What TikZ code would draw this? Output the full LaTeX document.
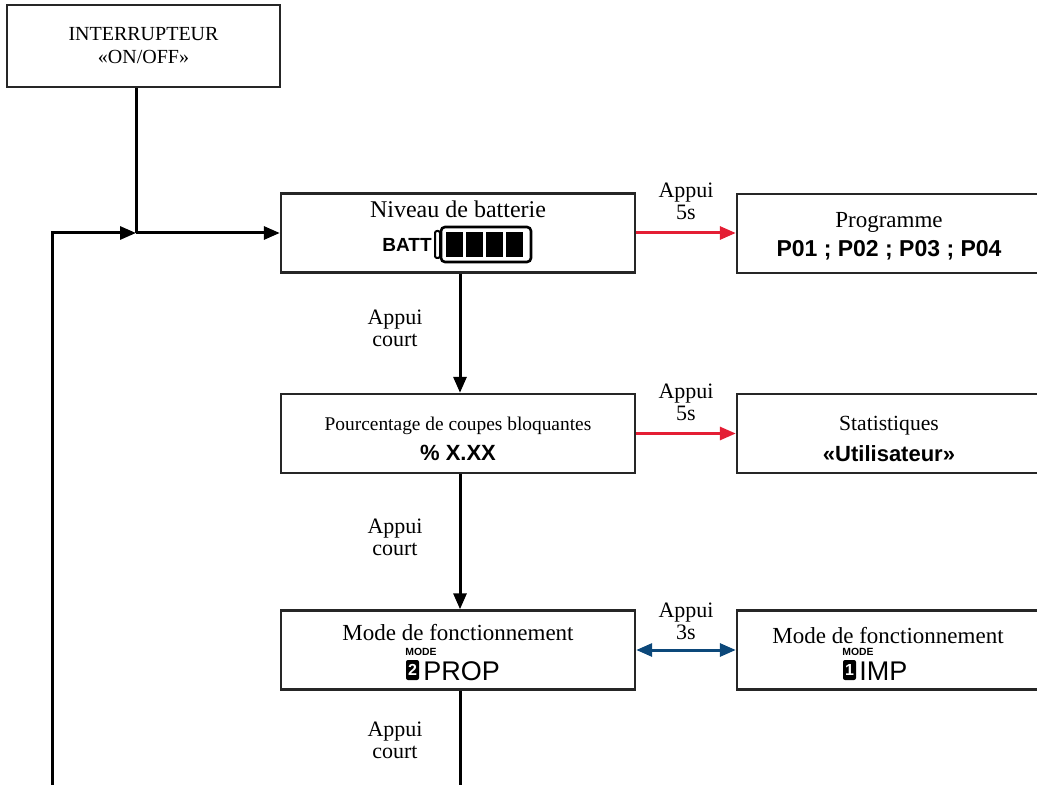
\documentclass[tikz,border=0pt]{standalone}
\usepackage{fontspec}
\setmainfont{Liberation Serif}
\setsansfont{Liberation Sans}
\usetikzlibrary{arrows.meta}

\definecolor{appuirouge}{RGB}{228,30,52}
\definecolor{appuibleu}{RGB}{12,72,122}

\begin{document}
\begin{tikzpicture}[x=0.5pt,y=-0.5pt]
	\tikzset{>={Triangle[length=8pt,width=6.5pt]}}
	\tikzset{ecran/.style={draw, line width=1.2pt, draw=black!85, minimum width=177pt, minimum height=39.5pt, inner sep=0pt}}
	\tikzset{ecrandroit/.style={ecran, minimum width=154pt}}
	\tikzset{fleche/.style={line width=1.5pt}}
	\tikzset{titre/.style={anchor=base, inner sep=0pt, font=\fontsize{11.5}{13}\selectfont}}
	\tikzset{valeur/.style={anchor=base, inner sep=0pt, font=\sffamily\bfseries\fontsize{11.5}{13}\selectfont}}
	\tikzset{appui/.style={align=center, inner sep=0pt, font=\fontsize{11}{11}\selectfont}}
	\tikzset{lcd/.style={anchor=base west, inner sep=0pt, font=\sffamily\fontsize{13.5}{13.5}\selectfont}}
	\tikzset{petitmode/.style={anchor=south west, inner sep=0pt, font=\sffamily\bfseries\fontsize{5.2}{5.2}\selectfont}}
	\tikzset{chiffre/.style={fill=black, text=white, rounded corners=1pt, inner sep=0pt, minimum width=6.5pt, minimum height=10pt, font=\sffamily\bfseries\fontsize{8}{8}\selectfont}}
	\clip (0,0) rectangle (1037,785);
	% les cadres
	\node[ecran, minimum width=136.5pt, minimum height=41pt] (inter) at (143.5,46) {};
	\node[ecran] (batt) at (458,233) {};
	\node[ecrandroit] (prog) at (891,233.5) {};
	\node[ecran] (pct) at (458,433.5) {};
	\node[ecrandroit] (stat) at (891,433.5) {};
	\node[ecran] (mode) at (458,650) {};
	\node[ecrandroit] (imp) at (891,650) {};
	% textes des cadres
	\node[titre, font=\fontsize{10}{12}\selectfont] (intert) at (143.5,41) {INTERRUPTEUR};
	\node[titre, font=\fontsize{10}{12}\selectfont] (onoff) at (143.5,64) {«ON/OFF»};
	\node[titre, font=\fontsize{12}{13}\selectfont] (battt) at (458,218) {Niveau de batterie};
	\node[titre] (progt) at (889,228) {Programme};
	\node[valeur] (progv) at (889,257) {P01 ; P02 ; P03 ; P04};
	\node[titre, font=\fontsize{9.7}{12}\selectfont] (pctt) at (458,430) {Pourcentage de coupes bloquantes};
	\node[valeur, font=\sffamily\bfseries\fontsize{11}{13}\selectfont] (pctv) at (458,460) {\% X.XX};
	\node[titre, font=\fontsize{10.8}{13}\selectfont] (statt) at (889,430) {Statistiques};
	\node[valeur, font=\sffamily\bfseries\fontsize{11}{13}\selectfont] (statv) at (889,461) {«Utilisateur»};
	\node[titre] (modet) at (458,640) {Mode de fonctionnement};
	\node[titre] (impt) at (888,643) {Mode de fonctionnement};
	% batterie
	\node[anchor=base, inner sep=0pt, font=\sffamily\bfseries\fontsize{9.5}{10}\selectfont] (batttxt) at (407,252) {BATT};
	\draw[line width=1pt, rounded corners=1pt] (435,231) rectangle (440,258);
	\draw[line width=1.3pt, rounded corners=2pt] (441,227) rectangle (531,262);
	\foreach \i in {0,...,3}
		\fill (446+20*\i,232) rectangle (463+20*\i,257.5);
	% afficheurs de mode
	\node[petitmode] (modeg) at (405,656) {MODE};
	\node[chiffre] (chiffreg) at (412.5,670) {2};
	\node[lcd] (prop) at (423,680) {PROP};
	\node[petitmode] (moded) at (842,656) {MODE};
	\node[chiffre] (chiffred) at (849.5,670) {1};
	\node[lcd] (impv) at (859,680) {IMP};
	% appuis
	\node[appui] (a1) at (686,201) {Appui\\5s};
	\node[appui] (a2) at (686,402) {Appui\\5s};
	\node[appui] (a3) at (686,621) {Appui\\3s};
	\node[appui] (c1) at (395,328) {Appui\\court};
	\node[appui] (c2) at (395,537) {Appui\\court};
	\node[appui] (c3) at (395,740) {Appui\\court};
	% liaisons
	\coordinate (jonction) at (136,233);
	\coordinate (retour) at (52,790);
	\coordinate (suite) at (460,790);
	\draw[fleche] (inter.south -| jonction) -- (jonction);
	\draw[fleche,->] (retour) |- (jonction);
	\draw[fleche,->] (jonction) -- (batt.west);
	\draw[fleche,->] (batt.south -| suite) -- (pct.north -| suite);
	\draw[fleche,->] (pct.south -| suite) -- (mode.north -| suite);
	\draw[fleche] (mode.south -| suite) -- (suite);
	\draw[fleche,->,appuirouge] (batt.east) -- (batt.east -| prog.west);
	\draw[fleche,->,appuirouge] (pct.east) -- (stat.west);
	\draw[fleche,<->,appuibleu] (mode.east) -- (imp.west);
\end{tikzpicture}
\end{document}
